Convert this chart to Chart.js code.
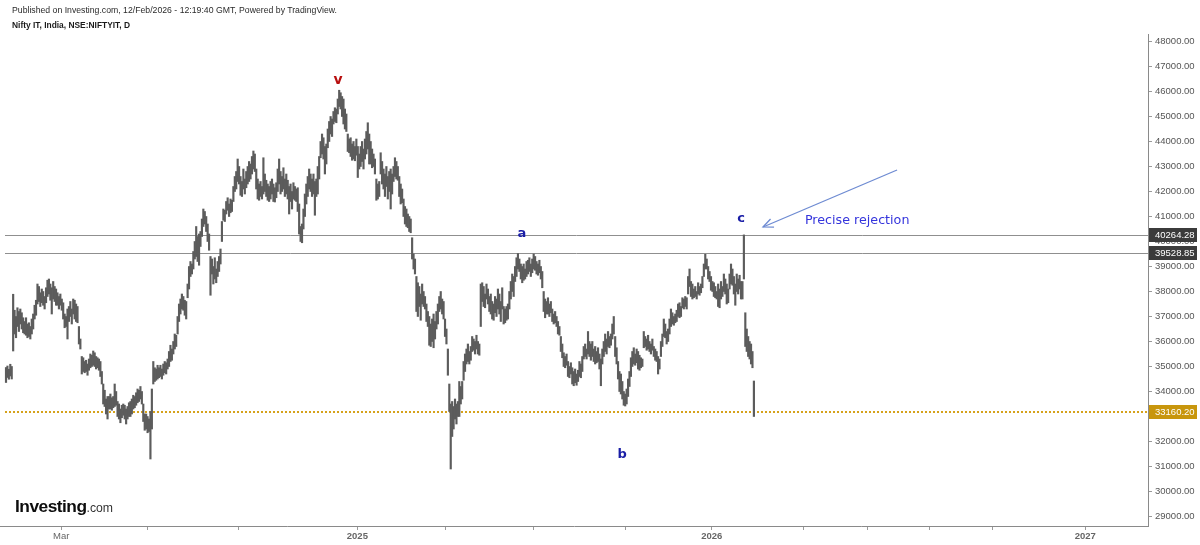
<!DOCTYPE html>
<html><head><meta charset="utf-8">
<script src="https://cdn.jsdelivr.net/npm/chart.js@4.4.1/dist/chart.umd.min.js"></script>
<style>
html,body{margin:0;padding:0;background:#fff;width:1200px;height:545px;overflow:hidden}
#wrap{position:relative;width:1200px;height:545px}
canvas{display:block;position:absolute;left:0;top:0}
.t{position:absolute;white-space:nowrap;line-height:1;font-family:"Liberation Sans",Arial,sans-serif;transform-origin:0 0;z-index:2}
</style></head><body>
<div id="wrap">
<canvas id="c" width="1200" height="545"></canvas>
<div id="hdr1" class="t" style="left:12px;top:5px;font-size:9.5px;color:#2a2a2a">Published on Investing.com, 12/Feb/2026 - 12:19:40 GMT, Powered by TradingView.</div>
<div id="hdr2" class="t" style="left:12px;top:20px;font-size:9.5px;font-weight:bold;color:#1a1a1a">Nifty IT, India, NSE:NIFTYIT, D</div>
<div id="logo" class="t" style="left:15px;top:498px;"><span style="font-weight:bold;font-size:17px;color:#0d0d0d;letter-spacing:-0.5px">Investing</span><span style="font-size:12px;color:#333">.com</span></div>
</div>
<script>
// ---- data (daily bars, NSE:NIFTYIT) ----
const highs = [
34960,35020,34890,35090,35000,37890,37250,37000,37350,37200,
37300,37150,36950,36800,36950,36700,36750,36600,36900,37100,
37450,37650,38300,38200,37950,38100,38000,37800,38150,38450,
38500,38300,38150,38400,38200,38100,37950,37800,37900,37700,
37550,37100,37000,37300,37400,37600,37300,37700,37650,37500,
37400,36600,36100,35400,35350,35200,35250,35100,35300,35500,
35450,35620,35550,35400,35350,35300,35200,34800,34300,34050,
33700,33800,33800,33900,33750,33800,34300,34000,33600,33500,
33300,33450,33500,33450,33300,33400,33550,33600,33700,33850,
33800,33950,34100,34050,34200,34000,33500,33100,33100,33000,
32900,33200,34100,35200,34950,34900,35050,34950,35050,34900,
35100,35200,35150,35300,35600,35850,35700,36000,36300,36250,
37000,37500,37700,37900,37800,37650,37600,38300,39000,39200,
39100,39600,40000,40600,40200,40300,40400,40900,41300,41200,
41000,40700,40300,39400,39300,39000,39350,38900,39200,39400,
39700,40800,41300,41250,41600,41750,41500,41700,41650,42200,
42600,42800,43300,43000,42600,42400,42900,42500,42800,43000,
43200,43100,43400,43620,43500,42900,42500,42300,42400,42200,
43350,42700,42450,42300,42200,42400,42500,42300,42150,42350,
42900,43300,42800,42600,42950,42500,42700,42450,42200,42300,
42000,42350,42200,42100,42150,41500,40600,40700,41300,41900,
42300,42600,42900,42700,42500,42700,42400,42500,43000,43400,
44000,44300,44150,43800,43900,44500,44800,45000,44900,45200,
45350,45300,45700,46050,45950,45800,45700,45300,45100,44300,
44100,44150,43900,44000,43800,44100,43800,43500,43800,44000,
43700,44100,44400,44750,44300,44000,43700,43500,43300,42500,
42300,42400,43550,43200,42900,42700,43000,42600,42800,42900,
42700,43000,43350,43200,43000,42600,42300,42100,41700,41400,
41300,41100,41000,40900,40150,39500,39300,38600,38350,38200,
37900,38300,38000,37800,37500,37200,37000,36700,36900,37100,
36800,37200,37500,37800,38000,37700,37600,36900,36500,35700,
34300,33500,33600,33400,33700,33500,33600,34400,34200,34400,
35200,35500,35700,35900,35600,35800,36200,36100,36000,36250,
36000,35900,38300,38350,38200,37900,38300,38100,37800,37900,
37600,37500,37800,37700,38100,37900,37600,38150,37400,37300,
37400,37500,38000,38400,38700,38600,39000,39350,39520,39300,
39100,39000,39100,38900,39200,39250,39350,39100,39300,39500,
39400,39200,39100,39250,39000,38800,38000,37700,37600,37750,
37500,37600,37300,37100,37200,37000,36800,36600,36200,35900,
35550,35400,35500,35200,35000,35150,34950,34800,34900,34700,
34850,35200,35100,35400,35800,35900,35700,36400,36000,35900,
36000,35700,35800,35600,35750,35500,35300,35700,36000,36300,
36100,36400,36200,36300,36700,37000,36200,35750,35200,34800,
34700,34400,34000,33900,34100,34500,34800,35350,35600,35750,
35500,35700,35600,35450,35350,35300,36400,36200,36100,36250,
36000,35900,36100,35800,35700,35600,35400,35300,36000,36300,
36900,36700,36400,36500,36900,37300,37150,37000,37100,37250,
37500,37550,37400,37750,37700,37800,37750,38600,38900,38400,
38300,38100,38200,38000,38350,38200,38300,38600,39100,39490,
39300,39000,38800,38600,38400,38350,38200,38000,38300,38100,
38400,38200,38700,38500,38300,38100,38700,39100,38900,38600,
38300,38700,38500,38650,38400,38400,40264.28,37150,36500,36200,
36000,35900,35600,34420
];
const lows = [
34360,34560,34490,34620,34500,35620,36300,36150,36600,36400,
36700,36500,36350,36300,36250,36150,36200,36100,36300,36500,
36900,37050,37500,37600,37400,37550,37450,37300,37550,37800,
37900,37650,37100,37700,37600,37450,37450,37300,37450,37250,
36900,36550,36600,36100,36800,37000,36700,37100,36900,36800,
36750,35900,35700,34700,34800,34750,34800,34650,34850,34950,
35000,35050,35000,34900,34950,34850,34600,34300,33500,33400,
33100,32900,33300,33300,33250,33350,33400,33450,33000,32900,
32750,32950,33050,32900,32700,32900,33000,33000,33100,33300,
33350,33450,33550,33600,33700,33500,32800,32450,32500,32350,
32400,31300,32500,34300,34400,34450,34500,34550,34600,34500,
34650,34750,34700,34900,35000,35200,35250,35500,35700,35800,
36300,36800,37100,37300,37250,37050,36900,37750,38100,38600,
38700,38900,39300,39400,39200,39050,39800,40200,40600,40700,
40400,40000,39650,37850,38700,38300,38500,38350,38600,38800,
39100,40000,40850,40800,41100,41250,41000,41150,41200,41600,
42000,42100,42400,42300,41850,41800,42100,41900,42150,42300,
42400,42500,42700,42900,42800,42100,41700,41650,41800,41700,
41900,42000,41800,41650,41600,41700,41900,41600,41580,41750,
42000,42300,41900,42000,42100,41800,41900,41700,41100,41600,
41300,41700,41650,41600,41200,40300,40000,39950,40500,41000,
41500,41800,42100,42000,41800,41900,41050,41800,41900,42500,
43350,43500,43300,42700,43100,43750,44000,44300,44200,44700,
44800,44750,45100,45400,45300,45000,44700,44500,44400,43600,
43550,43400,43250,43300,43230,43450,42560,42900,43000,43200,
42900,43300,43500,43700,43100,43100,42950,43000,42700,41650,
41700,41800,42700,42300,42100,41800,42200,41700,42000,41300,
41900,42400,42600,42500,42450,41800,41500,41550,41000,40700,
40600,40550,40400,40350,39300,38900,38700,37200,37000,37400,
36850,37500,37400,37300,36800,36600,35850,35800,36000,35750,
36100,36500,36700,37200,37300,37100,36900,36200,35900,34650,
33200,30900,32200,32500,32900,32700,33000,33000,33500,33700,
34450,34800,35100,35200,35100,35250,35600,35650,35500,35700,
35500,35450,36600,37600,37400,37350,37700,37500,37200,37100,
36900,36850,37150,37000,37300,37100,36800,37300,36700,36750,
36850,36900,37300,37700,38000,37800,38400,38600,38900,38800,
38500,38350,38450,38500,38600,38700,38800,38600,38750,38900,
38850,38700,38650,38750,38500,38150,37200,36950,37100,37100,
37000,37150,36800,36700,36750,36600,36300,36250,35600,35350,
35000,34950,35050,34600,34550,34700,34300,34230,34350,34250,
34400,34600,34550,34800,35300,35400,35300,35500,35400,35250,
35400,35200,35100,35150,35200,34900,34230,35100,35400,35600,
35500,35800,35750,35850,36100,36300,35400,35100,34500,34000,
33900,33700,33450,33420,33500,33800,34200,34600,35000,35100,
35050,35150,34900,34850,34950,35000,35750,35800,35650,35700,
35600,35500,35650,35400,35250,35200,34700,34900,35400,35800,
36200,36150,35900,36000,36300,36600,36700,36650,36750,36800,
37000,36950,37000,37350,37300,37400,37300,37900,38200,37800,
37700,37750,37800,37700,37900,37850,37950,38150,38600,38900,
38900,38500,38400,38050,38000,37800,37750,37700,37400,37350,
37700,37800,38000,37900,37500,37550,38100,38300,38250,37900,
37450,38000,37900,38100,37700,37700,38500,35800,35600,35400,
35300,35100,34950,33000
];
const lastClose = 33160.20;
const levelLines = [40264.28, 39528.85];
const priceTicks = [29000,30000,31000,32000,33000,34000,35000,36000,37000,38000,39000,40000,41000,42000,43000,44000,45000,46000,47000,48000];
const timeTickIndex = [38.6, 99.1, 162.8, 245.7, 307.3, 368.8, 433.1, 493.5, 557.8, 602.2, 646.1, 690, 754.7];
const timeTickLabels = ['Mar','','','2025','','','','2026','','','','','2027'];

// ---- chart ----
Chart.defaults.font.family = '"Liberation Sans", Arial, sans-serif';
const bars = highs.map((h, i) => ({x: i, y: [lows[i], h]}));

const notes = [
  {text:'v', x:232.2, y:46460, color:'#b80f0f', font:'bold 14px "DejaVu Sans", sans-serif'},
  {text:'a', x:360.8, y:40300, color:'#1a1ea6', font:'bold 13px "DejaVu Sans", sans-serif'},
  {text:'b', x:430.8, y:31460, color:'#1a1ea6', font:'bold 13px "DejaVu Sans", sans-serif'},
  {text:'c', x:514.0, y:40900, color:'#1a1ea6', font:'bold 13px "DejaVu Sans", sans-serif'}
];

const overlay = {
  id: 'overlay',
  beforeDatasetsDraw(chart) {
    const {ctx, chartArea: a, scales: {x, y}} = chart;
    const left = x.getPixelForValue(-0.7);
    ctx.save();
    ctx.lineWidth = 1;
    ctx.strokeStyle = '#8f8f8f';
    levelLines.forEach(v => {
      const py = Math.round(y.getPixelForValue(v)) + 0.5;
      ctx.beginPath(); ctx.moveTo(left, py); ctx.lineTo(a.right, py); ctx.stroke();
    });
    const pc = Math.round(y.getPixelForValue(lastClose));
    ctx.strokeStyle = '#d6a21c';
    ctx.lineWidth = 2;
    ctx.setLineDash([2, 2]);
    ctx.beginPath(); ctx.moveTo(left, pc); ctx.lineTo(a.right, pc); ctx.stroke();
    ctx.restore();
  },
  afterDraw(chart) {
    const {ctx, chartArea: a, scales: {x, y}} = chart;
    ctx.save();
    const tags = [[levelLines[0], '#3b3b3b'], [levelLines[1], '#3b3b3b'], [lastClose, '#c8960c']];
    ctx.font = '9.5px "Liberation Sans", Arial, sans-serif';
    ctx.textBaseline = 'middle';
    ctx.textAlign = 'left';
    tags.forEach(([v, col]) => {
      const py = Math.round(y.getPixelForValue(v));
      ctx.fillStyle = col;
      ctx.fillRect(a.right + 1, py - 7, 48, 14);
      ctx.fillStyle = '#ffffff';
      ctx.fillText(v.toFixed(2), a.right + 7, py + 0.5);
    });
    ctx.textAlign = 'center';
    notes.forEach(n => {
      ctx.font = n.font;
      ctx.fillStyle = n.color;
      ctx.fillText(n.text, x.getPixelForValue(n.x), y.getPixelForValue(n.y));
    });
    ctx.textAlign = 'left';
    ctx.font = '12.7px "DejaVu Sans", sans-serif';
    ctx.fillStyle = '#3434dc';
    ctx.fillText('Precise rejection', x.getPixelForValue(558.7), y.getPixelForValue(40820));
    const x0 = x.getPixelForValue(623.1), y0 = y.getPixelForValue(42860);
    const x1 = x.getPixelForValue(529.4), y1 = y.getPixelForValue(40580);
    ctx.strokeStyle = '#6e8bd2';
    ctx.lineWidth = 1.3;
    ctx.beginPath(); ctx.moveTo(x0, y0); ctx.lineTo(x1, y1); ctx.stroke();
    const ang = Math.atan2(y0 - y1, x0 - x1);
    ctx.beginPath();
    ctx.moveTo(x1 + 11 * Math.cos(ang + 0.42), y1 + 11 * Math.sin(ang + 0.42));
    ctx.lineTo(x1, y1);
    ctx.lineTo(x1 + 11 * Math.cos(ang - 0.42), y1 + 11 * Math.sin(ang - 0.42));
    ctx.stroke();
    ctx.restore();
  }
};

new Chart(document.getElementById('c'), {
  type: 'bar',
  data: {datasets: [{data: bars, backgroundColor: '#5c5c5c', borderWidth: 0, barThickness: 1.5, grouped: false}]},
  options: {
    responsive: false, animation: false, devicePixelRatio: 1,
    layout: {padding: {top: 34, left: 0, right: 0, bottom: 0}},
    plugins: {legend: {display: false}, tooltip: {enabled: false}},
    scales: {
      x: {
        type: 'linear', position: 'bottom', min: -4.2, max: 798.6, offset: false,
        afterBuildTicks(s) { s.ticks = timeTickIndex.map(v => ({value: v})); },
        afterFit(s) { s.height = 19; },
        grid: {display: true, offset: false, drawOnChartArea: false, drawTicks: true, tickLength: 4, color: '#9a9a9a'},
        border: {display: true, color: '#8a8a8a', width: 1},
        ticks: {
          autoSkip: false, maxRotation: 0, padding: 1, color: '#666',
          font: c => ({size: 9.5, weight: /^\d{4}$/.test(timeTickLabels[c.index] || '') ? 'bold' : 'normal'}),
          callback: (v, i) => timeTickLabels[i]
        }
      },
      y: {
        type: 'linear', position: 'right', min: 28620, max: 48300,
        afterBuildTicks(s) { s.ticks = priceTicks.map(v => ({value: v})); },
        afterFit(s) { s.width = 52; },
        grid: {drawOnChartArea: false, drawTicks: true, tickLength: 4, color: '#9a9a9a'},
        border: {display: true, color: '#8a8a8a', width: 1},
        ticks: {padding: 3, color: '#555', font: {size: 9.5}, callback: v => v.toFixed(2)}
      }
    }
  },
  plugins: [overlay]
});

function fit(id, w) {
  const el = document.getElementById(id);
  const r = w / el.getBoundingClientRect().width;
  el.style.transform = 'scaleX(' + r + ')';
}
fit('hdr1', 325); fit('hdr2', 118); fit('logo', 98);
</script>
</body></html>
